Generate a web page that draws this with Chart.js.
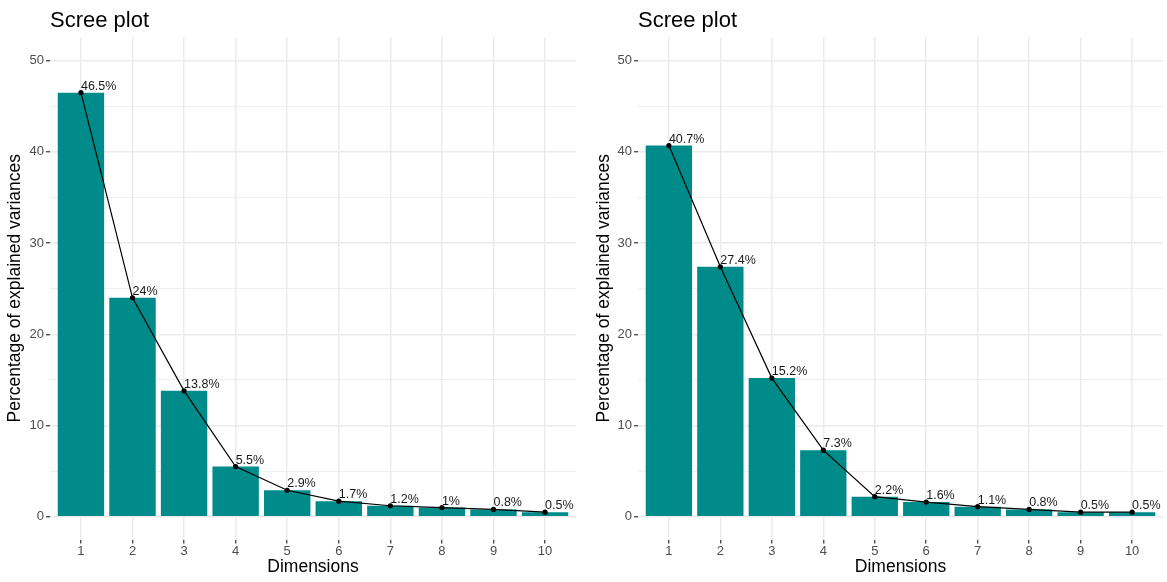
<!DOCTYPE html>
<html>
<head>
<meta charset="utf-8">
<script src="https://cdn.jsdelivr.net/npm/chart.js@4"></script>
<style>
    body { margin: 0; background: #fff; width: 1167px; height: 582px; position: relative; overflow: hidden; }
    .panel { position: absolute; top: 0; height: 582px; }
</style>
</head>
<body>
<div class="panel" style="left:0;width:584px"><canvas id="leftChart"></canvas></div>
<div class="panel" style="left:584px;width:583px"><canvas id="rightChart"></canvas></div>
<script>
const dimensions = [1, 2, 3, 4, 5, 6, 7, 8, 9, 10];
const leftValues = [46.5, 24, 13.8, 5.5, 2.9, 1.7, 1.2, 1, 0.8, 0.5];
const rightValues = [40.7, 27.4, 15.2, 7.3, 2.2, 1.6, 1.1, 0.8, 0.5, 0.5];
const yMajorTicks = [0, 10, 20, 30, 40, 50];
const yMinorTicks = [5, 15, 25, 35, 45];
const chartTitle = 'Scree plot';
const xTitle = 'Dimensions';
const yTitle = 'Percentage of explained variances';

const FONT = '"Liberation Sans", Arial, sans-serif';
const BAR_COLOR = '#008B8B';
const GRID_COLOR = '#EBEBEB';

// title + value labels drawn over the chart
const screePlugin = {
    id: 'scree',
    afterDatasetsDraw(chart) {
        const ctx = chart.ctx;
        const area = chart.chartArea;
        ctx.save();
        ctx.fillStyle = '#000';
        ctx.font = '22px ' + FONT;
        ctx.textAlign = 'left';
        ctx.textBaseline = 'alphabetic';
        ctx.fillText(chartTitle, area.left, 26.5);

        const meta = chart.getDatasetMeta(0);
        const values = chart.data.datasets[0].data;
        ctx.font = '12.5px ' + FONT;
        ctx.fillStyle = '#1a1a1a';
        meta.data.forEach((pt, i) => {
            ctx.fillText(values[i].y + '%', pt.x, pt.y - 3);
        });
        ctx.restore();
    }
};

function makeChart(id, values, geom) {
    const points = dimensions.map((d, i) => ({ x: d, y: values[i] }));
    const yTickValues = yMajorTicks.concat(yMinorTicks).sort((a, b) => a - b);

    return new Chart(document.getElementById(id), {
        type: 'bar',
        data: {
            datasets: [
                {
                    type: 'line',
                    data: points,
                    borderColor: '#000',
                    borderWidth: 1.2,
                    backgroundColor: '#000',
                    pointRadius: 2.6,
                    pointBorderWidth: 0,
                    tension: 0,
                    order: 0
                },
                {
                    type: 'bar',
                    data: points,
                    backgroundColor: BAR_COLOR,
                    borderWidth: 0,
                    categoryPercentage: 1,
                    barPercentage: 0.9,
                    order: 1
                }
            ]
        },
        options: {
            responsive: true,
            maintainAspectRatio: false,
            animation: false,
            layout: { padding: { top: 37, right: geom.right, left: 0, bottom: 0 } },
            plugins: {
                legend: { display: false },
                tooltip: { enabled: false }
            },
            scales: {
                x: {
                    type: 'linear',
                    min: 0.4,
                    max: 10.6,
                    offset: false,
                    afterBuildTicks: s => { s.ticks = dimensions.map(v => ({ value: v })); },
                    afterFit: s => { s.height = 42.5; },
                    grid: {
                        offset: false,
                        color: GRID_COLOR,
                        lineWidth: 1.5,
                        tickColor: '#333',
                        tickLength: 4,
                        tickWidth: 1.2
                    },
                    border: { display: false },
                    ticks: {
                        color: '#4D4D4D',
                        font: { family: FONT, size: 13 },
                        padding: 0,
                        maxRotation: 0,
                        callback: v => String(v)
                    },
                    title: {
                        display: true,
                        text: xTitle,
                        color: '#000',
                        font: { family: FONT, size: 17.5 },
                        padding: { top: 0, bottom: 4.5 }
                    }
                },
                y: {
                    min: -2.5,
                    max: 52.6,
                    afterBuildTicks: s => { s.ticks = yTickValues.map(v => ({ value: v })); },
                    afterFit: s => { s.width = geom.left; },
                    grid: {
                        color: GRID_COLOR,
                        lineWidth: c => (c.tick && c.tick.value % 10 === 0) ? 1.5 : 0.8,
                        tickColor: c => (c.tick && c.tick.value % 10 === 0) ? '#333' : 'rgba(0,0,0,0)',
                        tickLength: 4,
                        tickWidth: 1.2
                    },
                    border: { display: false },
                    ticks: {
                        color: '#4D4D4D',
                        font: { family: FONT, size: 13 },
                        padding: 2,
                        callback: v => (v % 10 === 0 ? String(v) : '')
                    },
                    title: {
                        display: true,
                        text: yTitle,
                        color: '#000',
                        font: { family: FONT, size: 17.5 },
                        padding: { top: geom.titlePad, bottom: 0 }
                    }
                }
            }
        },
        plugins: [screePlugin]
    });
}

makeChart('leftChart', leftValues, { left: 50, right: 8, titlePad: 5 });
makeChart('rightChart', rightValues, { left: 54, right: 2, titlePad: 9.5 });
</script>
</body>
</html>
